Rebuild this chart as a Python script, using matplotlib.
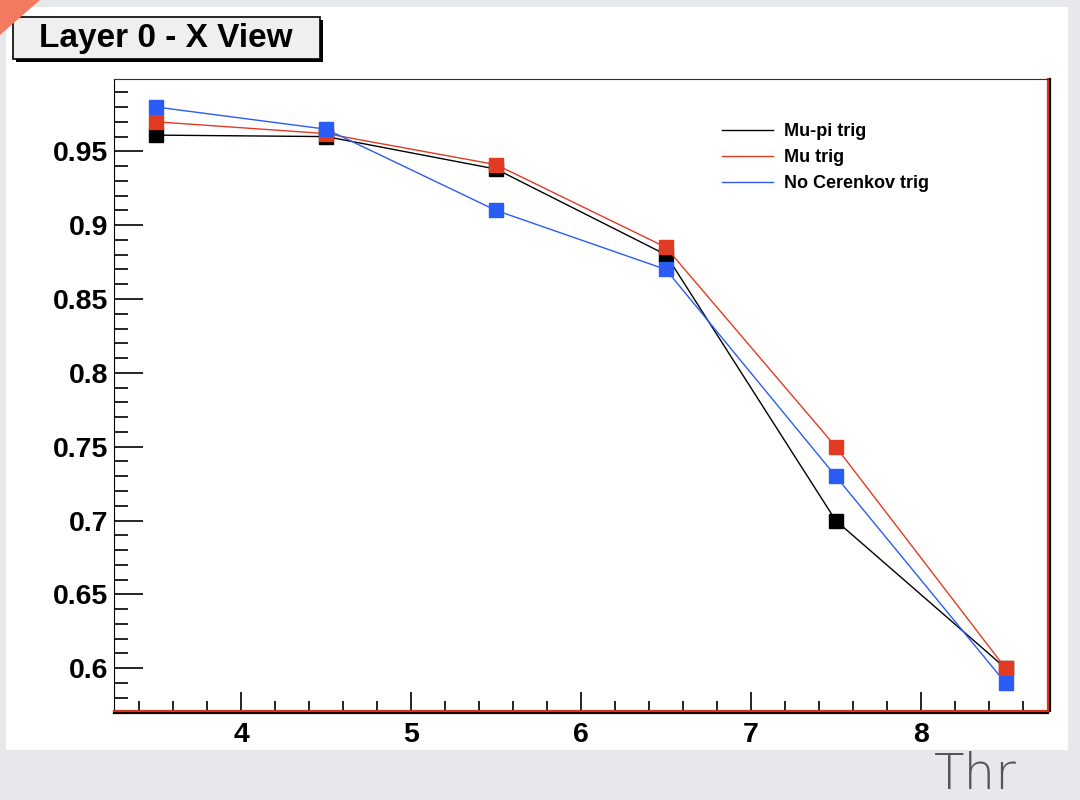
import matplotlib.pyplot as plt
import matplotlib.patches as patches
import matplotlib.patheffects as pe
from matplotlib.ticker import MultipleLocator

plt.rcParams['font.family'] = ['Liberation Sans', 'DejaVu Sans']
plt.rcParams['font.weight'] = 'bold'

thr = [3.5, 4.5, 5.5, 6.5, 7.5, 8.5]
mupi_trig = [0.961, 0.960, 0.938, 0.880, 0.700, 0.600]
mu_trig = [0.970, 0.962, 0.941, 0.885, 0.750, 0.600]
no_cer_trig = [0.980, 0.965, 0.910, 0.870, 0.730, 0.590]

series = [
    ("Mu-pi trig", mupi_trig, "black"),
    ("Mu trig", mu_trig, "#e23b22"),
    ("No Cerenkov trig", no_cer_trig, "#2b5cf6"),
]

fig = plt.figure(figsize=(10.8, 8), dpi=100)
fig.patch.set_facecolor("#e6e8eb")

# white canvas
fig.add_artist(patches.Rectangle((6 / 1080, 50 / 800), 1062 / 1080, 743 / 800,
                                 transform=fig.transFigure, facecolor="white",
                                 edgecolor="none", zorder=0))

ax = fig.add_axes([114 / 1080, 89 / 800, 934 / 1080, 632 / 800])
for label, vals, col in series:
    ax.plot(thr, vals, '-', color=col, lw=1.0, label=label)
    ax.plot(thr, vals, 's', color=col, ms=9.5, mec=col)

ax.set_xlim(3.25, 8.75)
ax.set_ylim(0.571, 0.999)
ax.xaxis.set_major_locator(MultipleLocator(1))
ax.xaxis.set_minor_locator(MultipleLocator(0.2))
ax.yaxis.set_major_locator(MultipleLocator(0.05))
ax.yaxis.set_minor_locator(MultipleLocator(0.01))
ax.yaxis.set_major_formatter(plt.FuncFormatter(lambda v, p: f"{v:g}"))
ax.tick_params(axis='both', which='both', direction='in', top=False, right=False,
               labelsize=20.5, width=1.2)
ax.tick_params(axis='y', which='major', length=21, pad=4)
ax.tick_params(axis='y', which='minor', length=10)
ax.tick_params(axis='x', which='major', length=14, pad=8)
ax.tick_params(axis='x', which='minor', length=7)

ax.spines['left'].set_color("black")
ax.spines['top'].set_color("#333333")
for side, off in (('bottom', (0, -1.2)), ('right', (1.2, 0))):
    sp = ax.spines[side]
    sp.set_color("#d8331c")
    sp.set_linewidth(1.6)
    sp.set_path_effects([pe.SimpleLineShadow(offset=off, shadow_color='black', alpha=1),
                         pe.Normal()])

ax.legend(loc='upper left', bbox_to_anchor=(0.651, 0.930), frameon=False,
          fontsize=13, handlelength=2.85, handletextpad=0.6, labelspacing=0.5,
          borderaxespad=0, borderpad=0)

# title box with shadow
fig.add_artist(patches.Rectangle((16 / 1080, 1 - 62 / 800), 307 / 1080, 42 / 800,
                                 transform=fig.transFigure, facecolor="black",
                                 edgecolor="none", zorder=3))
fig.add_artist(patches.Rectangle((13 / 1080, 1 - 59 / 800), 307 / 1080, 42 / 800,
                                 transform=fig.transFigure, facecolor="#efefef",
                                 edgecolor="black", lw=1.2, zorder=4))
fig.text(166 / 1080, 1 - 38 / 800, "Layer 0 - X View", fontsize=24, fontweight='bold',
         ha='center', va='center', zorder=5)

# slide decorations
fig.add_artist(patches.Polygon([(0, 1), (40 / 1080, 1), (0, 1 - 35 / 800)],
                               transform=fig.transFigure, facecolor="#f27a5e",
                               edgecolor="none", zorder=6))
fig.text(934 / 1080, 1 / 800, "Thr", fontsize=36, fontweight='light',
         family='DejaVu Sans', color="#555555", ha='left', va='bottom')

fig.savefig("out.png", dpi=100, facecolor=fig.get_facecolor())
